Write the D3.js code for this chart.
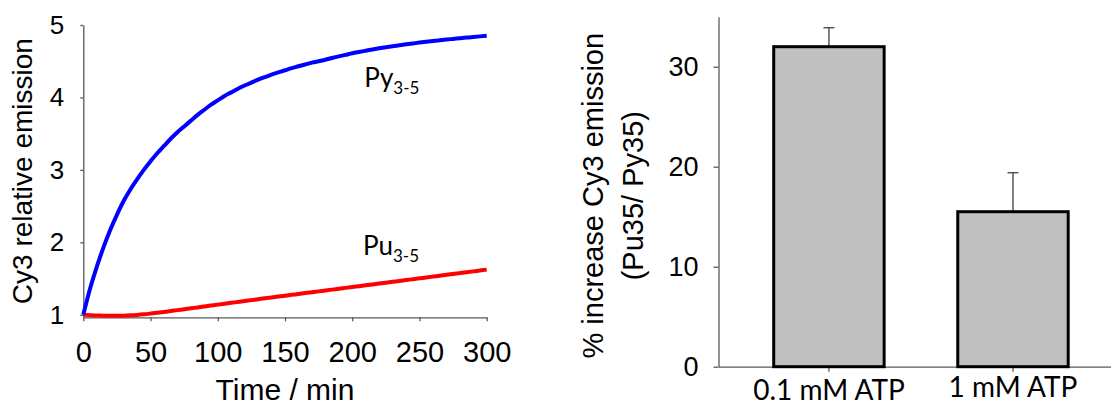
<!DOCTYPE html>
<html>
<head>
<meta charset="utf-8">
<style>
    body { margin: 0; background: #fff; }
    svg { display: block; }
    .axis text { font-family: "Liberation Sans", Arial, sans-serif; fill: #000; }
    .axis .domain, .axis .tick line { stroke: #595959; stroke-width: 1.3; }
    .title { font-family: "Liberation Sans", Arial, sans-serif; fill: #000; }
    .cal { font-family: Lato, "Open Sans", sans-serif; fill: #000; }
</style>
</head>
<body>
<svg width="1111" height="407"></svg>
<script src="https://d3js.org/d3.v7.min.js"></script>
<script>
// time course (minutes)
let times = [0,5,10,15,20,25,30,35,40,45,50,55,60,65,70,75,80,85,90,95,100,
    105,110,115,120,125,130,135,140,145,150,155,160,165,170,175,180,185,190,195,200,
    205,210,215,220,225,230,235,240,245,250,255,260,265,270,275,280,285,290,295,300];

// Py3-5, blue
let pyValues = [1.00,1.36,1.66,1.93,2.17,2.38,2.57,2.73,2.87,3.00,3.12,3.23,3.33,3.43,3.52,3.60,3.68,3.76,3.83,3.90,3.96,
    4.02,4.07,4.12,4.165,4.205,4.245,4.28,4.315,4.345,4.375,4.405,4.43,4.455,4.48,4.50,4.52,4.545,4.567,4.588,4.61,
    4.628,4.645,4.662,4.678,4.693,4.707,4.72,4.733,4.745,4.757,4.768,4.779,4.789,4.799,4.808,4.817,4.826,4.835,4.843,4.85];

// Pu3-5, red
let puValues = [1.00,0.995,0.99,0.988,0.986,0.986,0.988,0.992,0.998,1.006,1.016,1.027,1.039,1.051,1.064,1.076,1.089,1.101,1.114,1.127,1.14,
    1.152,1.165,1.177,1.19,1.202,1.215,1.227,1.239,1.251,1.263,1.275,1.287,1.299,1.311,1.323,1.335,1.347,1.359,1.371,1.383,
    1.395,1.407,1.419,1.431,1.443,1.455,1.467,1.479,1.491,1.503,1.515,1.527,1.539,1.551,1.563,1.575,1.587,1.599,1.611,1.623];

let timeTicks = [0,50,100,150,200,250,300];
let emissionTicks = [1,2,3,4,5];

// bar panel
let conditions = ["0.1 mM ATP", "1 mM ATP"];
let increase = [32, 15.5];
let increaseErr = [1.9, 3.9];
let increaseTicks = [0,10,20,30];

let svg = d3.select("svg");

// ---------- left panel ----------
let x = d3.scaleLinear().domain([0, 300]).range([83.3, 486.7]);
let y = d3.scaleLinear().domain([0.965, 5]).range([317.3, 25]);

let xAxis = svg.append("g")
    .attr("class", "axis")
    .attr("transform", `translate(0,${y(0.965)})`)
    .call(d3.axisBottom(x).tickValues(timeTicks).tickSize(4).tickSizeOuter(0).tickPadding(20))
xAxis.selectAll("text").style("font-size", "29px")

let yAxis = svg.append("g")
    .attr("class", "axis")
    .attr("transform", `translate(${x(0)},0)`)
    .call(d3.axisLeft(y).tickValues(emissionTicks).tickFormat(d3.format("d")).tickSize(3).tickSizeOuter(0).tickPadding(16))
yAxis.selectAll("text").style("font-size", "26px")

let line = d3.line().x(d => x(d[0])).y(d => y(d[1])).curve(d3.curveMonotoneX)

svg.append("path")
    .datum(times.map((t, i) => [t, puValues[i]]))
    .attr("d", line)
    .attr("fill", "none")
    .attr("stroke", "#ff0000")
    .attr("stroke-width", 4)
    .attr("stroke-linejoin", "round")

svg.append("path")
    .datum(times.map((t, i) => [t, pyValues[i]]))
    .attr("d", line)
    .attr("fill", "none")
    .attr("stroke", "#0000ff")
    .attr("stroke-width", 4)
    .attr("stroke-linejoin", "round")

// series labels
function seriesLabel(name, t, v) {
    let lbl = svg.append("text")
        .attr("class", "cal")
        .attr("x", x(t))
        .attr("y", y(v))
        .style("font-size", "26px")
    lbl.append("tspan").text(name)
    lbl.append("tspan").attr("dy", 7).style("font-size", "17px").text("3-5")
}
seriesLabel("Py", 209, 4.15)
seriesLabel("Pu", 208, 1.83)

svg.append("text")
    .attr("class", "title")
    .attr("x", x(150))
    .attr("y", 400)
    .attr("text-anchor", "middle")
    .style("font-size", "30px")
    .text("Time / min")

svg.append("text")
    .attr("class", "title")
    .attr("transform", `translate(32,${(y(5) + y(0.965)) / 2}) rotate(-90)`)
    .attr("text-anchor", "middle")
    .style("font-size", "28px")
    .text("Cy3 relative emission")

// ---------- right panel ----------
let xb = d3.scaleBand().domain(conditions).range([718.5, 1123.4]).paddingInner(0.4).paddingOuter(0.3);
let yb = d3.scaleLinear().domain([0, 35]).range([366.7, 16.7]);

let xbAxis = svg.append("g")
    .attr("class", "axis")
    .attr("transform", `translate(0,${yb(0)})`)
    .call(d3.axisBottom(xb).tickSize(5).tickSizeOuter(0).tickPadding(8))
xbAxis.selectAll("text")
    .style("font-family", "Lato, sans-serif")
    .style("font-size", "28px")
    .attr("dy", (d, i) => i == 0 ? "0.71em" : "0.62em")

let ybAxis = svg.append("g")
    .attr("class", "axis")
    .attr("transform", `translate(${xb.range()[0]},0)`)
    .call(d3.axisLeft(yb).tickValues(increaseTicks).tickSize(5).tickSizeOuter(0).tickPadding(15))
ybAxis.selectAll("text").style("font-size", "27px")

let barData = conditions.map((c, i) => ({ c: c, v: increase[i], e: increaseErr[i] }))

// error bars (upper only)
let err = svg.append("g").selectAll("g")
    .data(barData)
    .join("g")
err.append("line")
    .attr("x1", d => xb(d.c) + xb.bandwidth() / 2)
    .attr("x2", d => xb(d.c) + xb.bandwidth() / 2)
    .attr("y1", d => yb(d.v))
    .attr("y2", d => yb(d.v + d.e))
    .attr("stroke", "#555")
    .attr("stroke-width", 1.5)
err.append("line")
    .attr("x1", d => xb(d.c) + xb.bandwidth() / 2 - 5.5)
    .attr("x2", d => xb(d.c) + xb.bandwidth() / 2 + 5.5)
    .attr("y1", d => yb(d.v + d.e))
    .attr("y2", d => yb(d.v + d.e))
    .attr("stroke", "#555")
    .attr("stroke-width", 1.5)

svg.append("g").selectAll("rect")
    .data(barData)
    .join("rect")
    .attr("x", d => xb(d.c))
    .attr("width", xb.bandwidth())
    .attr("y", d => yb(d.v))
    .attr("height", d => yb(0) - yb(d.v))
    .attr("fill", "#c0c0c0")
    .attr("stroke", "#000")
    .attr("stroke-width", 3)

let ytitle = svg.append("text")
    .attr("class", "title")
    .attr("transform", `translate(603,${(yb(35) + yb(0)) / 2 + 4}) rotate(-90)`)
    .attr("text-anchor", "middle")
    .style("font-size", "29px")
ytitle.append("tspan").attr("x", 0).attr("dy", 0).text("% increase Cy3 emission")
ytitle.append("tspan").attr("x", 0).attr("dy", 40).text("(Pu35/ Py35)")
</script>
</body>
</html>
